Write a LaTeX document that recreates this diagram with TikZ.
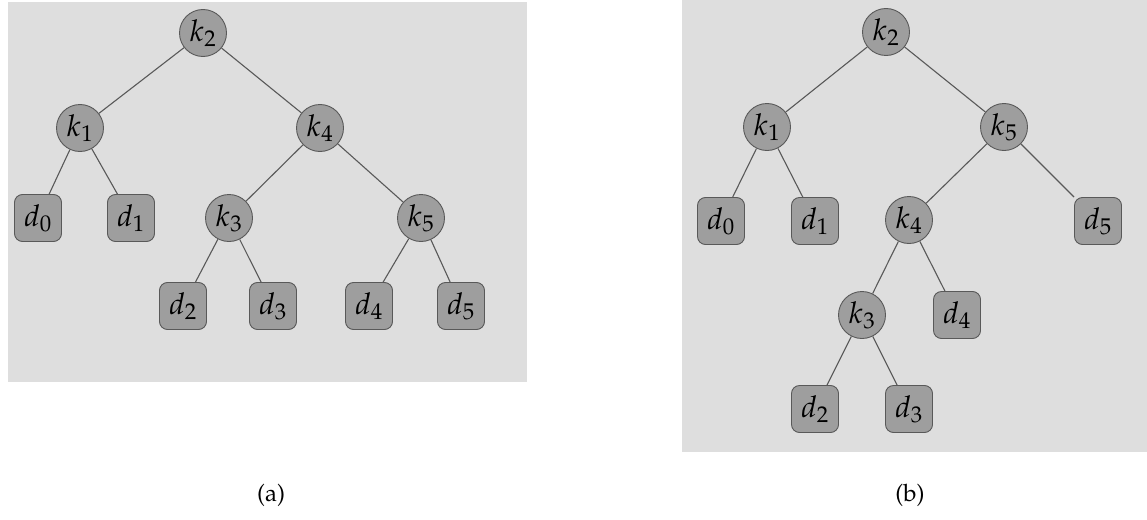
\documentclass[tikz,border=0pt]{standalone}
\usepackage[T1]{fontenc}
\usepackage{mathpazo}
\begin{document}
\begin{tikzpicture}[x=1pt,y=-1pt,
  key/.style={circle,draw=black!65,line width=0.9pt,fill=black!38,minimum size=47pt,inner sep=0pt,font=\fontsize{30}{34}\selectfont},
  dummy/.style={rectangle,rounded corners=8pt,draw=black!65,line width=0.9pt,fill=black!38,minimum width=47pt,minimum height=47pt,inner sep=0pt,font=\fontsize{30}{34}\selectfont},
  edge/.style={draw=black!65,line width=1.1pt},
  bg/.style={fill=black!13,draw=none},
  caption/.style={font=\fontencoding{T1}\fontfamily{ppl}\fontsize{24}{28}\selectfont}]
\useasboundingbox (0,0) rectangle (1147,519);
\fill[white] (0,0) rectangle (1147,519);
% backgrounds
\path[bg] (8,2) rectangle (527,382);
\path[bg] (682,0) rectangle (1147,452);
% tree (a)
\node[key] (a2) at (203,33) {$k_2$};
\node[key] (a1) at (80,128) {$k_1$};
\node[key] (a4) at (320,128) {$k_4$};
\node[dummy] (ad0) at (38,218) {$d_0$};
\node[dummy] (ad1) at (131,218) {$d_1$};
\node[key] (a3) at (229,218) {$k_3$};
\node[key] (a5) at (421,218) {$k_5$};
\node[dummy] (ad2) at (183,306) {$d_2$};
\node[dummy] (ad3) at (273,306) {$d_3$};
\node[dummy] (ad4) at (369,306) {$d_4$};
\node[dummy] (ad5) at (461,306) {$d_5$};
\draw[edge] (a2) -- (a1);
\draw[edge] (a2) -- (a4);
\draw[edge] (a1) -- (ad0);
\draw[edge] (a1) -- (ad1);
\draw[edge] (a4) -- (a3);
\draw[edge] (a4) -- (a5);
\draw[edge] (a3) -- (ad2);
\draw[edge] (a3) -- (ad3);
\draw[edge] (a5) -- (ad4);
\draw[edge] (a5) -- (ad5);
% tree (b)
\node[key] (b2) at (886,32) {$k_2$};
\node[key] (b1) at (767,127) {$k_1$};
\node[key] (b5) at (1004,127) {$k_5$};
\node[dummy] (bd0) at (721,221) {$d_0$};
\node[dummy] (bd1) at (815,221) {$d_1$};
\node[key] (b4) at (909,220) {$k_4$};
\node[dummy] (bd5) at (1098,221) {$d_5$};
\node[key] (b3) at (862,315) {$k_3$};
\node[dummy] (bd4) at (957,315) {$d_4$};
\node[dummy] (bd2) at (815,409) {$d_2$};
\node[dummy] (bd3) at (909,409) {$d_3$};
\draw[edge] (b2) -- (b1);
\draw[edge] (b2) -- (b5);
\draw[edge] (b1) -- (bd0);
\draw[edge] (b1) -- (bd1);
\draw[edge] (b5) -- (b4);
\draw[edge] (b5) -- (bd5);
\draw[edge] (b4) -- (b3);
\draw[edge] (b4) -- (bd4);
\draw[edge] (b3) -- (bd2);
\draw[edge] (b3) -- (bd3);
% captions
\node[caption] (capa) at (271,495) {(a)};
\node[caption] (capb) at (910,495) {(b)};
\end{tikzpicture}
\end{document}
